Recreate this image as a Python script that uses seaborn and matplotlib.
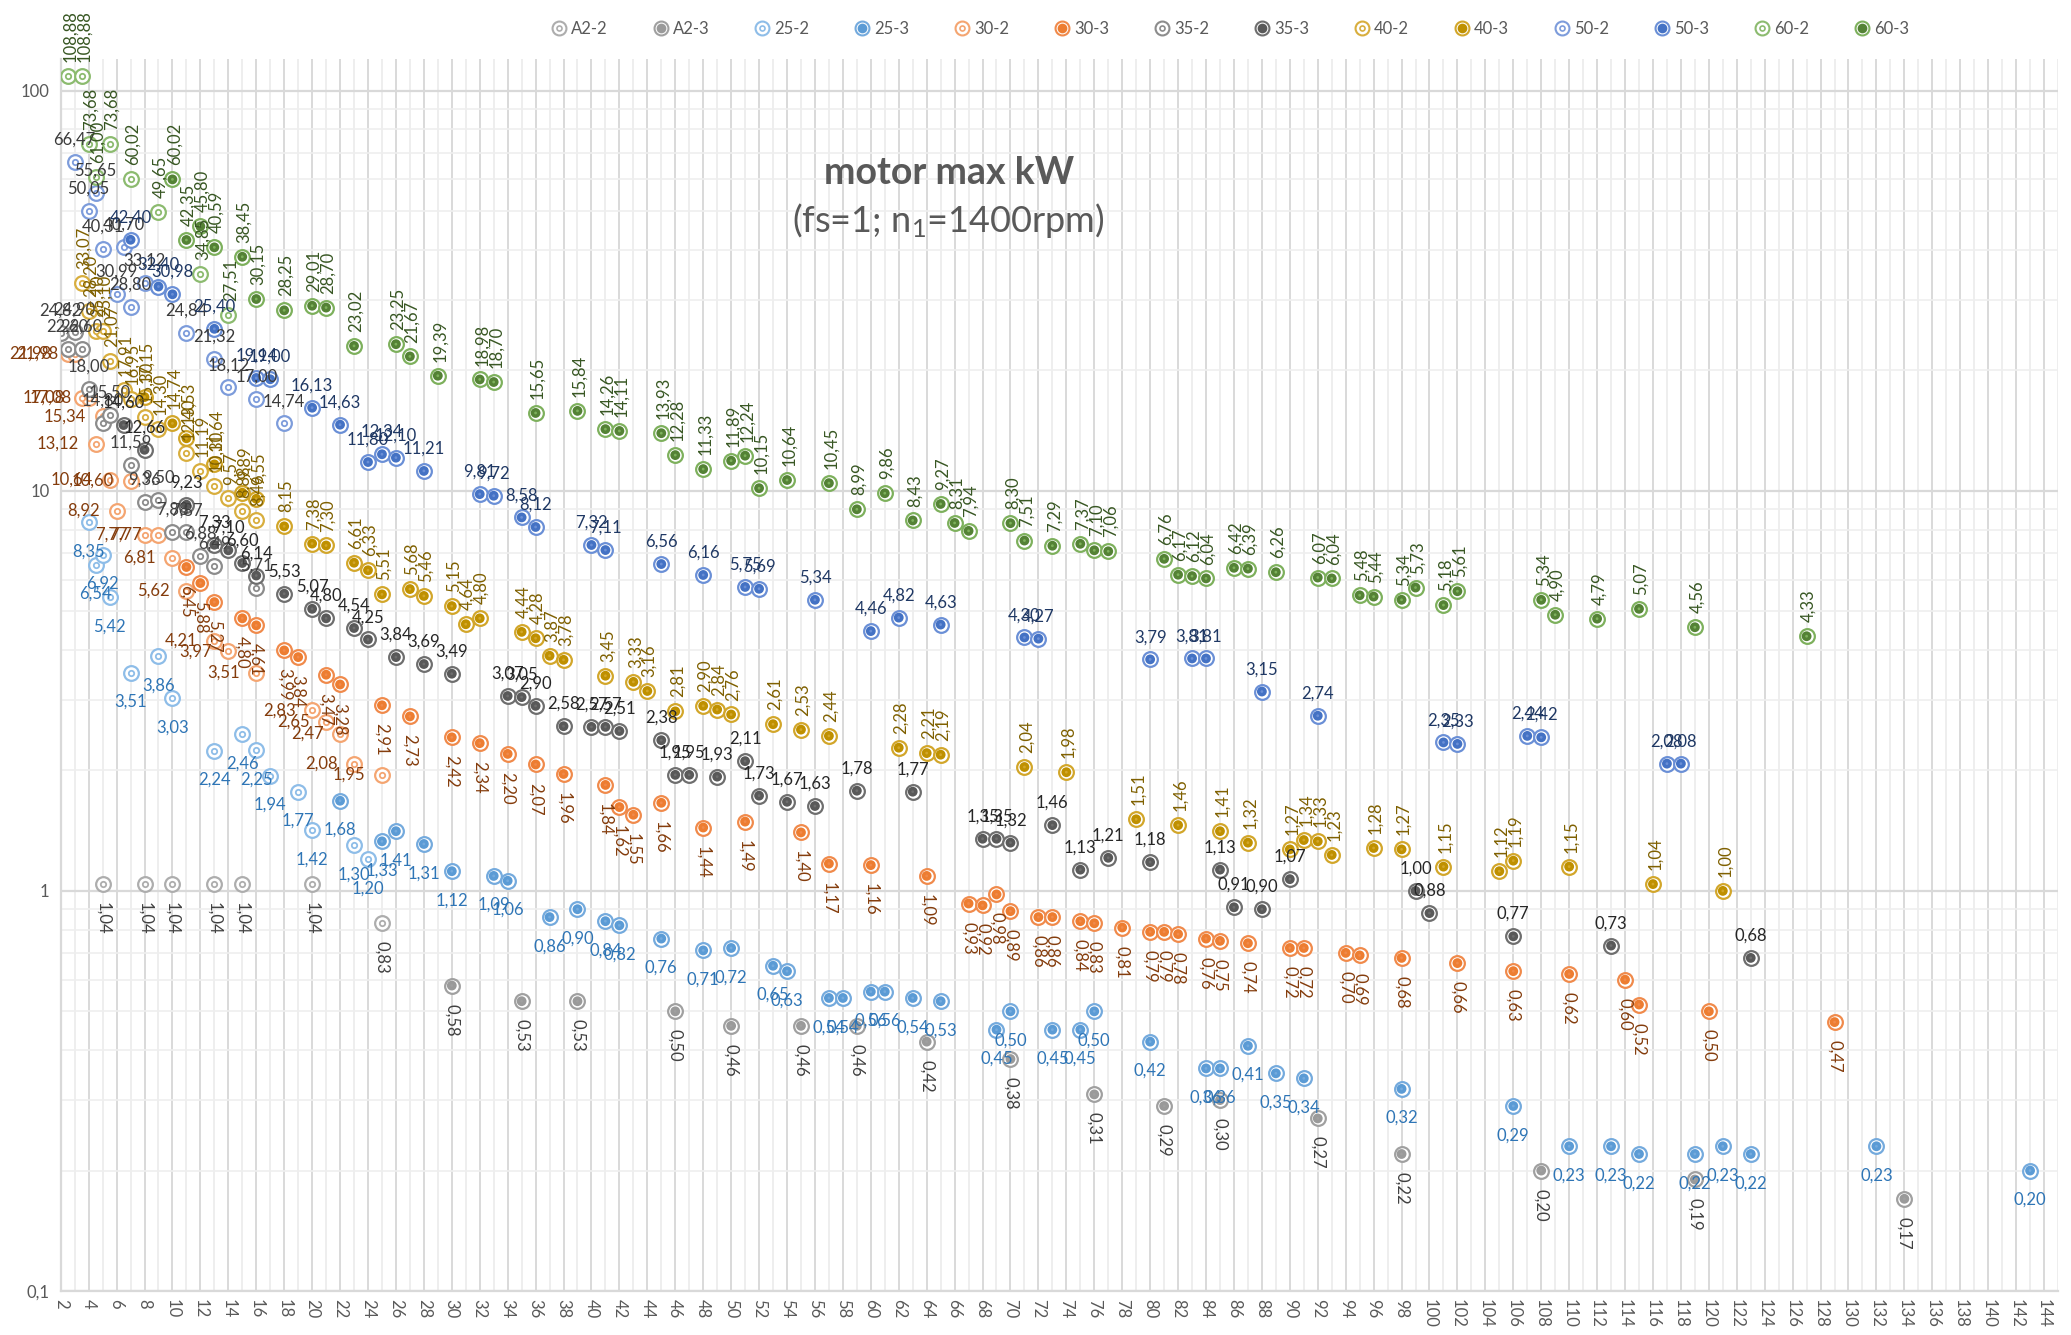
import numpy as np
import pandas as pd
import seaborn as sns
import matplotlib.pyplot as plt
from matplotlib.lines import Line2D
from matplotlib.legend_handler import HandlerTuple
from matplotlib.ticker import MultipleLocator, LogLocator, FuncFormatter, NullFormatter

# Data (ratio on x, motor max kW on y)

a2_2_x = [5, 8, 10, 13, 15, 20, 25]
a2_2_kw = [1.04, 1.04, 1.04, 1.04, 1.04, 1.04, 0.83]

a2_3_x = [30, 35, 39, 46, 50, 55, 59, 64, 70, 76, 81, 85, 92, 98, 108, 119, 134]
a2_3_kw = [0.58, 0.53, 0.53, 0.50, 0.46, 0.46, 0.46, 0.42, 0.38, 0.31, 0.29, 0.30, 0.27, 0.22, 0.20, 0.19, 0.17]

s25_2_x = [4, 4.5, 5, 5.5, 7, 9, 10, 13, 15, 16, 17, 19, 20, 23, 24]
s25_2_kw = [8.35, 6.54, 6.92, 5.42, 3.51, 3.86, 3.03, 2.24, 2.46, 2.25, 1.94, 1.77, 1.42, 1.30, 1.20]

s25_3_x = [22, 25, 26, 28, 30, 33, 34, 37, 39, 41, 42, 45, 48, 50, 53, 54, 57, 58, 60, 61, 63, 65,
           69, 70, 73, 75, 76, 80, 84, 85, 87, 89, 91, 98, 106, 110, 113, 115, 119, 121, 123, 132, 143]
s25_3_kw = [1.68, 1.33, 1.41, 1.31, 1.12, 1.09, 1.06, 0.86, 0.90, 0.84, 0.82, 0.76, 0.71, 0.72, 0.65, 0.63,
            0.54, 0.54, 0.56, 0.56, 0.54, 0.53, 0.45, 0.50, 0.45, 0.45, 0.50, 0.42, 0.36, 0.36, 0.41, 0.35,
            0.34, 0.32, 0.29, 0.23, 0.23, 0.22, 0.22, 0.23, 0.22, 0.23, 0.20]

s30_2_x = [2.5, 3, 3.5, 4, 4.5, 5, 5.5, 6, 7, 8, 9, 10, 11, 13, 14, 16, 20, 21, 22, 23, 25]
s30_2_kw = [21.98, 21.98, 17.08, 17.08, 13.12, 15.34, 10.64, 8.92, 10.60, 7.77, 7.77, 6.81, 5.62, 4.21,
            3.97, 3.51, 2.83, 2.65, 2.47, 2.08, 1.95]

s30_3_x = [11, 12, 13, 15, 16, 18, 19, 21, 22, 25, 27, 30, 32, 34, 36, 38, 41, 42, 43, 45, 48, 51, 55, 57,
           60, 64, 67, 68, 69, 70, 72, 73, 75, 76, 78, 80, 81, 82, 84, 85, 87, 90, 91, 94, 95, 98, 102,
           106, 110, 114, 115, 120, 129]
s30_3_kw = [6.45, 5.88, 5.27, 4.80, 4.61, 3.99, 3.84, 3.47, 3.28, 2.91, 2.73, 2.42, 2.34, 2.20, 2.07, 1.96,
            1.84, 1.62, 1.55, 1.66, 1.44, 1.49, 1.40, 1.17, 1.16, 1.09, 0.93, 0.92, 0.98, 0.89, 0.86, 0.86,
            0.84, 0.83, 0.81, 0.79, 0.79, 0.78, 0.76, 0.75, 0.74, 0.72, 0.72, 0.70, 0.69, 0.68, 0.66, 0.63,
            0.62, 0.60, 0.52, 0.50, 0.47]

s35_2_x = [2, 2.5, 3, 3.5, 4, 5, 5.5, 7, 8, 9, 10, 11, 12, 13, 16]
s35_2_kw = [24.82, 22.60, 24.90, 22.60, 18.00, 14.80, 15.50, 11.59, 9.36, 9.50, 7.88, 7.87, 6.88, 6.49, 5.71]

s35_3_x = [6.5, 8, 11, 13, 14, 15, 16, 18, 20, 21, 23, 24, 26, 28, 30, 34, 35, 36, 38, 40, 41, 42, 45,
           46, 47, 49, 51, 52, 54, 56, 59, 63, 68, 69, 70, 73, 75, 77, 80, 85, 86, 88, 90, 99, 100, 106,
           113, 123]
s35_3_kw = [14.60, 12.66, 9.23, 7.33, 7.10, 6.60, 6.14, 5.53, 5.07, 4.80, 4.54, 4.25, 3.84, 3.69, 3.49,
            3.07, 3.05, 2.90, 2.58, 2.57, 2.57, 2.51, 2.38, 1.95, 1.95, 1.93, 2.11, 1.73, 1.67, 1.63, 1.78,
            1.77, 1.35, 1.35, 1.32, 1.46, 1.13, 1.21, 1.18, 1.13, 0.91, 0.90, 1.07, 1.00, 0.88, 0.77, 0.73,
            0.68]

s40_2_x = [3.5, 4, 4.5, 5, 5.5, 6.5, 7, 8, 9, 11, 12, 13, 14, 15, 16]
s40_2_kw = [33.07, 28.20, 25.10, 25.10, 21.07, 17.91, 16.95, 15.30, 14.30, 12.40, 11.19, 10.30, 9.57,
            8.88, 8.46]

s40_3_x = [8, 10, 11, 13, 15, 16, 18, 20, 21, 23, 24, 25, 27, 28, 30, 31, 32, 35, 36, 37, 38, 41, 43, 44,
           46, 48, 49, 50, 53, 55, 57, 62, 64, 65, 71, 74, 79, 82, 85, 87, 90, 91, 92, 93, 96, 98, 101,
           105, 106, 110, 116, 121]
s40_3_kw = [17.15, 14.74, 13.53, 11.64, 9.89, 9.55, 8.15, 7.38, 7.30, 6.61, 6.33, 5.51, 5.68, 5.46, 5.15,
            4.64, 4.80, 4.44, 4.28, 3.87, 3.78, 3.45, 3.33, 3.16, 2.81, 2.90, 2.84, 2.76, 2.61, 2.53, 2.44,
            2.28, 2.21, 2.19, 2.04, 1.98, 1.51, 1.46, 1.41, 1.32, 1.27, 1.34, 1.33, 1.23, 1.28, 1.27, 1.15,
            1.12, 1.19, 1.15, 1.04, 1.00]

s50_2_x = [3, 4, 4.5, 5, 6, 6.5, 7, 8, 11, 13, 14, 16, 18]
s50_2_kw = [66.47, 50.05, 55.65, 40.31, 30.99, 40.70, 28.80, 33.12, 24.84, 21.32, 18.12, 17.00, 14.74]

s50_3_x = [7, 9, 10, 13, 16, 17, 20, 22, 24, 25, 26, 28, 32, 33, 35, 36, 40, 41, 45, 48, 51, 52, 56, 60,
           62, 65, 71, 72, 80, 83, 84, 88, 92, 101, 102, 107, 108, 117, 118]
s50_3_kw = [42.40, 32.40, 30.98, 25.40, 19.14, 19.00, 16.13, 14.63, 11.80, 12.34, 12.10, 11.21, 9.81,
            9.72, 8.58, 8.12, 7.32, 7.11, 6.56, 6.16, 5.75, 5.69, 5.34, 4.46, 4.82, 4.63, 4.30, 4.27, 3.79,
            3.81, 3.81, 3.15, 2.74, 2.35, 2.33, 2.44, 2.42, 2.08, 2.08]

s60_2_x = [2.5, 3.5, 4, 4.5, 5.5, 7, 9, 12, 14]
s60_2_kw = [108.88, 108.88, 73.68, 61.00, 73.68, 60.02, 49.65, 34.85, 27.51]

s60_3_x = [10, 11, 12, 13, 15, 16, 18, 20, 21, 23, 26, 27, 29, 32, 33, 36, 39, 41, 42, 45, 46, 48, 50,
           51, 52, 54, 57, 59, 61, 63, 65, 66, 67, 70, 71, 73, 75, 76, 77, 81, 82, 83, 84, 86, 87, 89, 92,
           93, 95, 96, 98, 99, 101, 102, 108, 109, 112, 115, 119, 127]
s60_3_kw = [60.02, 42.35, 45.80, 40.59, 38.45, 30.15, 28.25, 29.01, 28.70, 23.02, 23.25, 21.67, 19.39,
            18.98, 18.70, 15.65, 15.84, 14.26, 14.11, 13.93, 12.28, 11.33, 11.89, 12.24, 10.15, 10.64,
            10.45, 8.99, 9.86, 8.43, 9.27, 8.31, 7.94, 8.30, 7.51, 7.29, 7.37, 7.10, 7.06, 6.76, 6.17, 6.12,
            6.04, 6.42, 6.39, 6.26, 6.07, 6.04, 5.48, 5.44, 5.34, 5.73, 5.18, 5.61, 5.34, 4.90, 4.79, 5.07,
            4.56, 4.33]

series_names = ["A2-2", "A2-3", "25-2", "25-3", "30-2", "30-3", "35-2", "35-3",
                "40-2", "40-3", "50-2", "50-3", "60-2", "60-3"]
series_x = [a2_2_x, a2_3_x, s25_2_x, s25_3_x, s30_2_x, s30_3_x, s35_2_x, s35_3_x,
            s40_2_x, s40_3_x, s50_2_x, s50_3_x, s60_2_x, s60_3_x]
series_kw = [a2_2_kw, a2_3_kw, s25_2_kw, s25_3_kw, s30_2_kw, s30_3_kw, s35_2_kw, s35_3_kw,
             s40_2_kw, s40_3_kw, s50_2_kw, s50_3_kw, s60_2_kw, s60_3_kw]

df = pd.concat([pd.DataFrame({"series": n, "ratio": xs, "kw": ks})
                for n, xs, ks in zip(series_names, series_x, series_kw)], ignore_index=True)

# Styles

ring = {"A2-2": "#ADADAD", "A2-3": "#A0A0A0", "25-2": "#8EBDE8", "25-3": "#74AADD",
        "30-2": "#F4A571", "30-3": "#F08A4B", "35-2": "#8C8C8C", "35-3": "#6E6E6E",
        "40-2": "#D8AE3E", "40-3": "#D2A62A", "50-2": "#7D9CDB", "50-3": "#6A8FD6",
        "60-2": "#8CBB6F", "60-3": "#7DB05C"}
fill = {"A2-3": "#9A9A9A", "25-3": "#5B9BD5", "30-3": "#ED7D31", "35-3": "#595959",
        "40-3": "#BF9000", "50-3": "#4472C4", "60-3": "#548235"}
lab_col = {"A2-2": "#404040", "A2-3": "#404040", "25-2": "#2E75B6", "25-3": "#2E75B6",
           "30-2": "#843C0C", "30-3": "#843C0C", "35-2": "#404040", "35-3": "#262626",
           "40-2": "#7F6000", "40-3": "#7F6000", "50-2": "#3A3A3A", "50-3": "#1F3864",
           "60-2": "#385723", "60-3": "#385723"}
# placement: (dx, dy in points, ha, va, rotation)
above_h = (0, 16, "center", "center", 0)
below_h = (0, -21, "center", "center", 0)
left_h = (-12, 0, "right", "center", 0)
above_v = (1.5, 10, "center", "bottom", 90)
below_v = (0, -13, "center", "top", 270)
lab_pos = {"A2-2": below_v, "A2-3": below_v, "25-2": below_h, "25-3": below_h,
           "30-2": left_h, "30-3": below_v, "35-2": above_h, "35-3": above_h,
           "40-2": above_v, "40-3": above_v, "50-2": above_h, "50-3": above_h,
           "60-2": above_v, "60-3": above_v}

sns.set_theme(style="white")
plt.rcParams['font.family'] = ['Lato', 'DejaVu Sans']
plt.rcParams['mathtext.fontset'] = 'custom'
plt.rcParams['mathtext.rm'] = 'Lato'
plt.rcParams['mathtext.it'] = 'Lato'

fig = plt.figure(figsize=(20.71, 13.35), dpi=100)
ax = fig.add_axes([60.7 / 2071, 1 - 1291 / 1335, (2058 - 60.7) / 2071, (1291 - 59) / 1335])
ax.set_yscale("log")
ax.set_xlim(2, 145)
ax.set_ylim(0.1, 120)
ax.set_axisbelow(True)

ax.xaxis.set_major_locator(MultipleLocator(2))
ax.xaxis.set_minor_locator(MultipleLocator(1))
ax.yaxis.set_major_locator(LogLocator(base=10))
ax.yaxis.set_minor_locator(LogLocator(base=10, subs=np.arange(2, 10)))
ax.yaxis.set_minor_formatter(NullFormatter())
ax.xaxis.grid(True, which="major", color="#D9D9D9", lw=1.4)
ax.xaxis.grid(True, which="minor", color="#EBEBEB", lw=1.2)
ax.yaxis.grid(True, which="major", color="#D9D9D9", lw=1.6)
ax.yaxis.grid(True, which="minor", color="#EFEFEF", lw=1.2)

ax.xaxis.set_major_formatter(FuncFormatter(lambda v, p: f"{int(round(v))}"))
ax.yaxis.set_major_formatter(FuncFormatter(lambda v, p: f"{v:g}".replace(".", ",")))
ax.tick_params(axis="x", which="both", length=0, labelsize=12, labelcolor="#595959",
               labelrotation=270, pad=6)
ax.tick_params(axis="y", which="both", length=0, labelsize=12, labelcolor="#595959", pad=8)
for s in ["top", "right"]:
    ax.spines[s].set_visible(False)
for s in ["left", "bottom"]:
    ax.spines[s].set_color("#D9D9D9")
    ax.spines[s].set_linewidth(1.6)

# Markers

for i, name in enumerate(series_names):
    sub = df[df["series"] == name]
    z = 3 + i * 0.01
    sns.scatterplot(data=sub, x="ratio", y="kw", ax=ax, marker="o", s=112, color="white",
                    edgecolor=ring[name], linewidth=1.6, legend=False, zorder=z)
    if name.endswith("-2"):
        sns.scatterplot(data=sub, x="ratio", y="kw", ax=ax, marker="o", s=15, color="white",
                        edgecolor=ring[name], linewidth=1.3, legend=False, zorder=z)
    else:
        sns.scatterplot(data=sub, x="ratio", y="kw", ax=ax, marker="o", s=50, color=fill[name],
                        edgecolor="none", linewidth=0, legend=False, zorder=z)
        sns.scatterplot(data=sub, x="ratio", y="kw", ax=ax, marker="o", s=4, color=ring[name],
                        edgecolor="none", linewidth=0, legend=False, zorder=z)
ax.set_xlabel("")
ax.set_ylabel("")

# Data labels

for name in series_names:
    sub = df[df["series"] == name]
    dx, dy, ha, va, rot = lab_pos[name]
    for _, r in sub.iterrows():
        ax.annotate(f"{r['kw']:.2f}".replace(".", ","), (r["ratio"], r["kw"]),
                    xytext=(dx, dy), textcoords="offset points", ha=ha, va=va,
                    rotation=rot, fontsize=12, color=lab_col[name], zorder=10,
                    annotation_clip=False)

# Legend

handles = []
for name in series_names:
    outer = Line2D([], [], ls="none", marker="o", ms=10, mfc="white", mec=ring[name], mew=1.5)
    if name.endswith("-2"):
        inner = Line2D([], [], ls="none", marker="o", ms=3.6, mfc="white", mec=ring[name], mew=1.2)
    else:
        inner = Line2D([], [], ls="none", marker="o", ms=7, mfc=fill[name], mec="none")
    handles.append((outer, inner))
fig.legend(handles, series_names, loc="center", bbox_to_anchor=(1230 / 2071, 1 - 29 / 1335),
           ncol=14, frameon=False, fontsize=12, handlelength=1.0, handletextpad=0.2,
           columnspacing=2.7, labelcolor="#595959",
           handler_map={tuple: HandlerTuple(ndivide=1, pad=0)})

# Title

fig.text(949 / 2071, 1 - 173 / 1335, "motor max kW", ha="center", va="center",
         fontsize=27, fontweight="bold", color="#595959")
fig.text(948 / 2071, 1 - 221 / 1335, "(fs=1; n$_1$=1400rpm)", ha="center", va="center",
         fontsize=26, color="#595959")

fig.savefig("out.png", dpi=100)
